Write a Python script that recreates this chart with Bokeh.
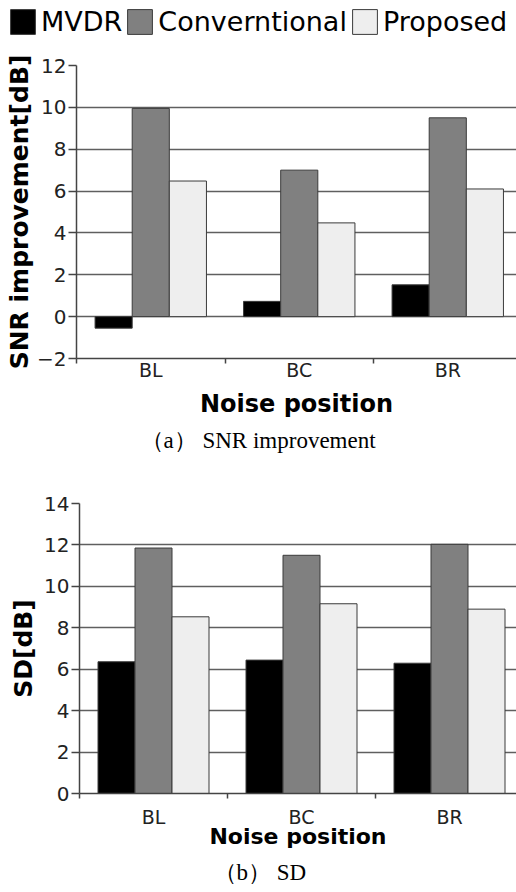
from bokeh.plotting import figure
from bokeh.models import (ColumnDataSource, Range1d, FixedTicker, Legend, LegendItem, Title)
from bokeh.transform import dodge
from bokeh.embed import file_html
from bokeh.resources import INLINE

# ---- data ----
positions = ["BL", "BC", "BR"]
series_names = ["MVDR", "Converntional", "Proposed"]
snr_mvdr = [-0.55, 0.73, 1.52]
snr_conv = [9.95, 7.0, 9.5]
snr_prop = [6.48, 4.48, 6.1]
sd_mvdr = [6.36, 6.44, 6.29]
sd_conv = [11.85, 11.5, 12.03]
sd_prop = [8.53, 9.16, 8.9]
snr_ticks = [-2, 0, 2, 4, 6, 8, 10, 12]
sd_ticks = [0, 2, 4, 6, 8, 10, 12, 14]

fills = ["#000000", "#808080", "#eeeeee"]
edge = "#3a3a3a"
offsets = [-0.25, 0.0, 0.25]
SANS = "DejaVu Sans"
W = 516
centers = [i + 0.5 for i in range(len(positions))]


def add_bars(p, vals, visible=True):
    src = ColumnDataSource(dict(x=centers, cat=positions,
                                a=vals[0], b=vals[1], c=vals[2]))
    rs = []
    for key, off, fc in zip(["a", "b", "c"], offsets, fills):
        rs.append(p.vbar(x=dodge("x", off), top=key, bottom=0, width=0.25, source=src,
                         fill_color=fc, line_color=edge, line_width=1, visible=visible))
    return rs


def make_fig(vals, yr, yticks, ylabel, caption, height, left, top, bottom, xend,
             ylab_standoff, label_standoff, xlab_size, xlab_standoff,
             cap_offset, cap_standoff):
    p = figure(width=W, height=height, output_backend="svg", toolbar_location=None,
               x_range=Range1d(0, xend), y_range=Range1d(*yr),
               min_border_left=left, min_border_right=0, min_border_top=top,
               min_border_bottom=bottom)
    p.outline_line_color = None
    add_bars(p, vals)
    # y axis
    p.yaxis.ticker = FixedTicker(ticks=yticks)
    p.yaxis.axis_label = ylabel
    p.yaxis.axis_label_text_font = SANS
    p.yaxis.axis_label_text_font_style = "bold"
    p.yaxis.axis_label_text_font_size = "25px"
    p.yaxis.axis_label_text_color = "black"
    p.yaxis.axis_label_standoff = ylab_standoff
    p.yaxis.major_label_text_font = SANS
    p.yaxis.major_label_text_font_size = "20px"
    p.yaxis.major_label_text_color = "#222222"
    p.yaxis.major_label_standoff = 2
    p.yaxis.major_tick_out = 8
    p.yaxis.major_tick_in = 0
    p.yaxis.minor_tick_out = 0
    p.yaxis.minor_tick_in = 0
    p.yaxis.axis_line_color = "#444444"
    p.yaxis.axis_line_width = 1.5
    p.yaxis.major_tick_line_color = "#444444"
    p.yaxis.major_tick_line_width = 1.5
    # x axis
    p.xaxis.ticker = FixedTicker(ticks=centers, minor_ticks=list(range(len(positions) + 1)))
    p.xaxis.major_label_overrides = {c: n for c, n in zip(centers, positions)}
    p.xaxis.axis_label = "Noise position"
    p.xaxis.axis_label_text_font = SANS
    p.xaxis.axis_label_text_font_style = "bold"
    p.xaxis.axis_label_text_font_size = xlab_size
    p.xaxis.axis_label_text_color = "black"
    p.xaxis.axis_label_standoff = xlab_standoff
    p.xaxis.major_label_text_font = SANS
    p.xaxis.major_label_text_font_size = "19px"
    p.xaxis.major_label_text_color = "#222222"
    p.xaxis.major_label_standoff = label_standoff
    p.xaxis.major_tick_out = 0
    p.xaxis.major_tick_in = 0
    p.xaxis.minor_tick_out = 5
    p.xaxis.minor_tick_in = 0
    p.xaxis.minor_tick_line_color = "#444444"
    p.xaxis.minor_tick_line_width = 1.5
    p.xaxis.axis_line_color = "#444444"
    p.xaxis.axis_line_width = 1.5
    # grid
    p.xgrid.visible = False
    p.ygrid.ticker = FixedTicker(ticks=yticks)
    p.ygrid.grid_line_color = "#5f5f5f"
    p.ygrid.grid_line_width = 1.3
    p.ygrid.level = "underlay"
    cap = Title(text=caption, align="left", offset=cap_offset, text_font="Liberation Serif",
                text_font_size="23px", text_font_style="normal", text_color="black",
                standoff=cap_standoff)
    p.add_layout(cap, "below")
    return p


# legend strip on top
pl = figure(width=W, height=40, output_backend="svg", toolbar_location=None,
            x_range=Range1d(0, 1), y_range=Range1d(0, 1), min_border=0,
            x_axis_type=None, y_axis_type=None)
pl.outline_line_color = None
pl.xgrid.visible = False
pl.ygrid.visible = False
lrs = add_bars(pl, [snr_mvdr, snr_conv, snr_prop], visible=False)
legend = Legend(items=[LegendItem(label=n, renderers=[r]) for n, r in zip(series_names, lrs)],
                orientation="horizontal", location=(7, 3),
                glyph_width=31, glyph_height=31, label_standoff=3, spacing=2,
                padding=0, margin=0, border_line_color=None, background_fill_alpha=0,
                inactive_fill_alpha=0,
                label_text_font=SANS, label_text_font_size="27px", label_text_color="black")
pl.add_layout(legend)

p1 = make_fig([snr_mvdr, snr_conv, snr_prop], (-2, 12), snr_ticks,
              "SNR improvement[dB]", "（a） SNR improvement", 418, 76, 25, 100,
              (W - 76) / 148.5, 0, -5, "24px", 6, 64, 10)
p2 = make_fig([sd_mvdr, sd_conv, sd_prop], (0, 14), sd_ticks,
              "SD[dB]", "（b） SD", 434, 79, 45, 99, (W - 79) / 148.0,
              3, 7, "22px", -7, 134, 13)

open("out.html", "w").write(file_html([pl, p1, p2], INLINE))
